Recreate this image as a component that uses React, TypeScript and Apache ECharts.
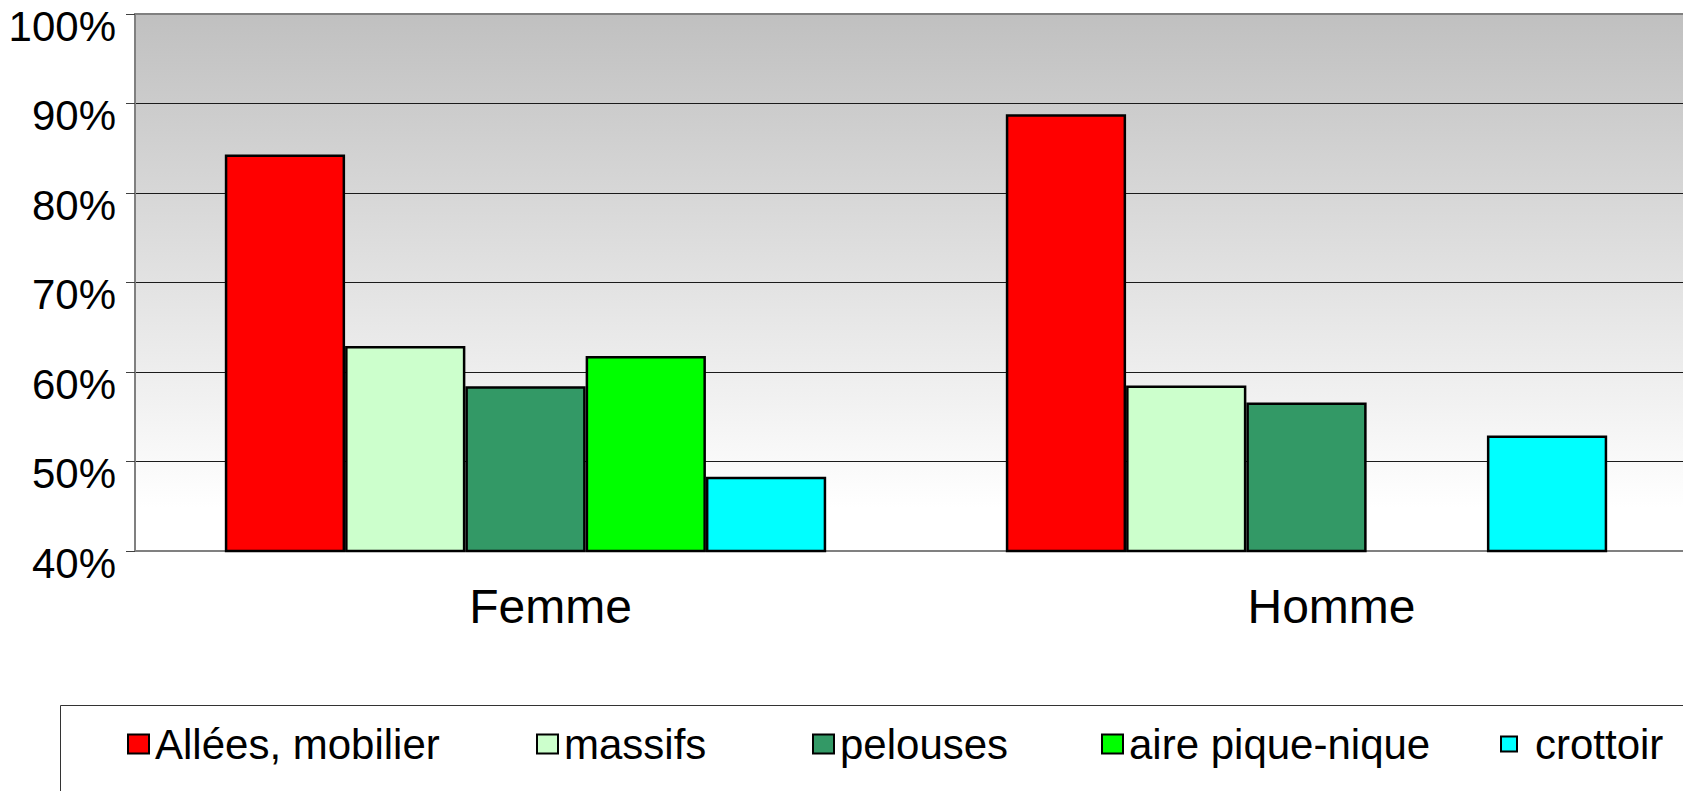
import React, { useEffect, useRef } from "react";
import * as echarts from "echarts";

const categories = ["Femme", "Homme"];
const seriesNames = ["Allées, mobilier", "massifs", "pelouses", "aire pique-nique", "crottoir"];
const allees = [84.3, 88.8];
const massifs = [62.9, 58.5];
const pelouses = [58.4, 56.6];
const aire = [61.8, null];
const crottoir = [48.3, 52.9];
const colors = ["#ff0000", "#ccffcc", "#339966", "#00ff00", "#00ffff"];
const yTicks = { min: 40, max: 100, interval: 10 };

const FONT = "Liberation Sans, Arial, sans-serif";

export default function App() {
  const ref = useRef<HTMLDivElement>(null);
  useEffect(() => {
    if (!ref.current) return;
    const chart = echarts.init(ref.current, null, { renderer: "svg" });
    const values = [allees, massifs, pelouses, aire, crottoir];
    const legendLefts = [127, 536, 812, 1101, 1500];
    const legends = seriesNames.map((n, i) => {
      const small = i === 4;
      return {
        data: [n],
        left: legendLefts[i],
        top: 723,
        padding: 0,
        itemWidth: small ? 16 : 21,
        itemHeight: small ? 15 : 19,
        icon: "rect",
        selectedMode: false,
        itemStyle: { borderColor: "#000", borderWidth: 2 },
        textStyle: {
          fontFamily: FONT,
          fontSize: 42,
          color: "#000",
          padding: [0, 0, 0, small ? 13 : 1],
        },
      };
    });
    chart.setOption({
      animation: false,
      backgroundColor: "#ffffff",
      grid: {
        left: 135,
        top: 14,
        bottom: 240,
        width: 1562,
        outerBoundsMode: "none",
        containLabel: false,
        show: true,
        borderColor: "#808080",
        borderWidth: 2,
        backgroundColor: {
          type: "linear",
          x: 0,
          y: 0,
          x2: 0,
          y2: 1,
          colorStops: [
            { offset: 0, color: "#c0c0c0" },
            { offset: 0.92, color: "#ffffff" },
            { offset: 1, color: "#ffffff" },
          ],
        },
      },
      legend: legends,
      xAxis: {
        type: "category",
        data: categories,
        axisLine: { lineStyle: { color: "#808080", width: 2 } },
        axisTick: { length: 9, lineStyle: { color: "#404040", width: 1 } },
        axisLabel: {
          fontFamily: FONT,
          fontSize: 48,
          color: "#000",
          margin: 31,
          padding: [0, 0, 0, 50],
        },
        splitLine: { show: false },
      },
      yAxis: {
        type: "value",
        min: yTicks.min,
        max: yTicks.max,
        interval: yTicks.interval,
        axisLine: { show: true, lineStyle: { color: "#808080", width: 2 } },
        axisTick: { show: true, length: 9, lineStyle: { color: "#404040", width: 1 } },
        axisLabel: {
          fontFamily: FONT,
          fontSize: 42,
          color: "#000",
          margin: 19,
          verticalAlign: "top",
          lineHeight: 24,
          formatter: "{value}%",
          showMinLabel: true,
          showMaxLabel: true,
        },
        splitLine: {
          show: true,
          showMinLine: false,
          showMaxLine: false,
          lineStyle: { color: "#1a1a1a", width: 1 },
        },
      },
      graphic: [
        {
          type: "rect",
          shape: { x: 60.5, y: 705.5, width: 1700, height: 200 },
          style: { fill: "none", stroke: "#333333", lineWidth: 1 },
          silent: true,
        },
      ],
      series: seriesNames.map((n, i) => ({
        name: n,
        type: "bar",
        data: values[i],
        barGap: "0%",
        barCategoryGap: "23%",
        itemStyle: { color: colors[i], borderColor: "#000", borderWidth: 2.5 },
      })),
    });
    return () => chart.dispose();
  }, []);
  return (
    <div
      ref={ref}
      style={{ position: "fixed", left: 0, top: 0, width: 1683, height: 791 }}
    />
  );
}
